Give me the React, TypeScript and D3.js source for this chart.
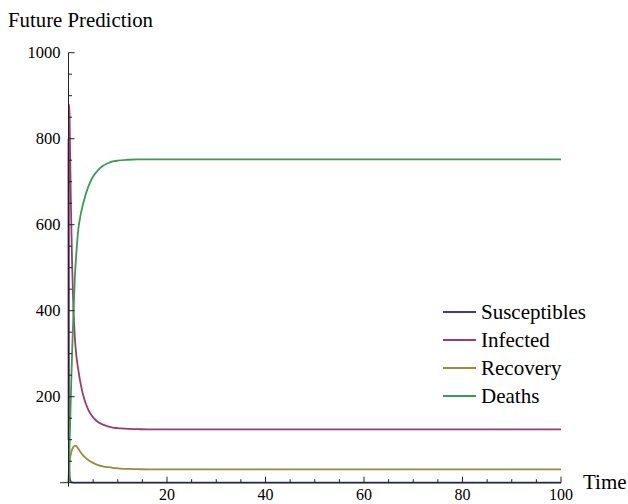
import React from "react";
import * as d3 from "d3";

const timeValues = [0, 0.05, 0.1, 0.2, 0.3, 0.5, 0.75, 1, 1.3, 1.6, 2, 2.5, 3, 4, 5, 6, 7, 8, 9, 10, 12, 14, 16, 20, 30, 50, 100];
const susceptibles = [800, 300, 100, 25, 8, 2, 0.5, 0.2, 0.1, 0, 0, 0, 0, 0, 0, 0, 0, 0, 0, 0, 0, 0, 0, 0, 0, 0, 0];
const infected = [100, 700, 880, 860, 790, 640, 500, 405, 335, 295, 262, 228, 203, 170, 152, 141, 135, 131, 128, 127, 125, 124.5, 124, 124, 124, 124, 124];
const recovery = [0, 15, 28, 45, 55, 68, 78, 83, 86, 85, 79, 70, 63, 53, 46, 41, 38, 36, 34.5, 33.5, 32, 31.5, 31, 31, 31, 31, 31];
const deaths = [0, 15, 35, 80, 125, 210, 310, 390, 480, 535, 590, 625, 650, 688, 712, 727, 737, 743, 747, 749, 751, 752, 752, 752, 752, 752, 752];

const seriesNames = ["Susceptibles", "Infected", "Recovery", "Deaths"];
const seriesColors = ["#3d3d99", "#993d71", "#998c3d", "#3d9954"];
const xMajorTicks = [20, 40, 60, 80, 100];
const yMajorTicks = [200, 400, 600, 800, 1000];

export default function App() {
  const W = 628, H = 504;
  const x = d3.scaleLinear().domain([0, 100]).range([68.5, 561]);
  const y = d3.scaleLinear().domain([0, 1000]).range([482.7, 52.7]);
  const all = [susceptibles, infected, recovery, deaths];
  const line = d3
    .line<number>()
    .x((_, i) => x(timeValues[i]))
    .y((d) => y(d))
    .curve(d3.curveMonotoneX);

  const xMinor = d3.range(0, 101, 5).filter((v) => v % 20 !== 0);
  const yMinor = d3.range(0, 1001, 50).filter((v) => v % 200 !== 0);
  const font = "'Liberation Serif', 'Times New Roman', serif";
  const axisColor = "#222";

  return (
    <svg width={W} height={H} style={{ position: "absolute", left: 0, top: 0, background: "#fff" }} fontFamily={font}>
      {all.map((s, i) => (
        <path key={i} d={line(s) || ""} fill="none" stroke={seriesColors[i]} strokeWidth={1.8} />
      ))}
      <line x1={x(-1.7)} x2={x(100)} y1={y(0)} y2={y(0)} stroke={axisColor} strokeWidth={1} />
      <line x1={x(0)} x2={x(0)} y1={y(-9)} y2={y(1000)} stroke={axisColor} strokeWidth={1} />
      {xMajorTicks.map((t) => (
        <g key={"xm" + t}>
          <line x1={x(t)} x2={x(t)} y1={y(0)} y2={y(0) - 6} stroke={axisColor} />
          <text x={x(t)} y={500} fontSize={16} textAnchor="middle" fill="#000">{t}</text>
        </g>
      ))}
      {xMinor.map((t) => (
        <line key={"xn" + t} x1={x(t)} x2={x(t)} y1={y(0)} y2={y(0) - 3.5} stroke={axisColor} />
      ))}
      {yMajorTicks.map((t) => (
        <g key={"ym" + t}>
          <line x1={x(0)} x2={x(0) + 6} y1={y(t)} y2={y(t)} stroke={axisColor} />
          <text x={60.5} y={y(t)} dy="0.35em" fontSize={16.5} textAnchor="end" fill="#000">{t}</text>
        </g>
      ))}
      {yMinor.map((t) => (
        <line key={"yn" + t} x1={x(0)} x2={x(0) + 3.5} y1={y(t)} y2={y(t)} stroke={axisColor} />
      ))}
      <text x={8} y={27} fontSize={20.8} fill="#000">Future Prediction</text>
      <text x={583} y={489} fontSize={21} fill="#000">Time</text>
      {seriesNames.map((n, i) => {
        const ly = 312 + i * 28;
        return (
          <g key={n}>
            <line x1={443} x2={476} y1={ly} y2={ly} stroke={seriesColors[i]} strokeWidth={1.8} />
            <text x={481} y={ly} dy="0.33em" fontSize={21} fill="#000">{n}</text>
          </g>
        );
      })}
    </svg>
  );
}
